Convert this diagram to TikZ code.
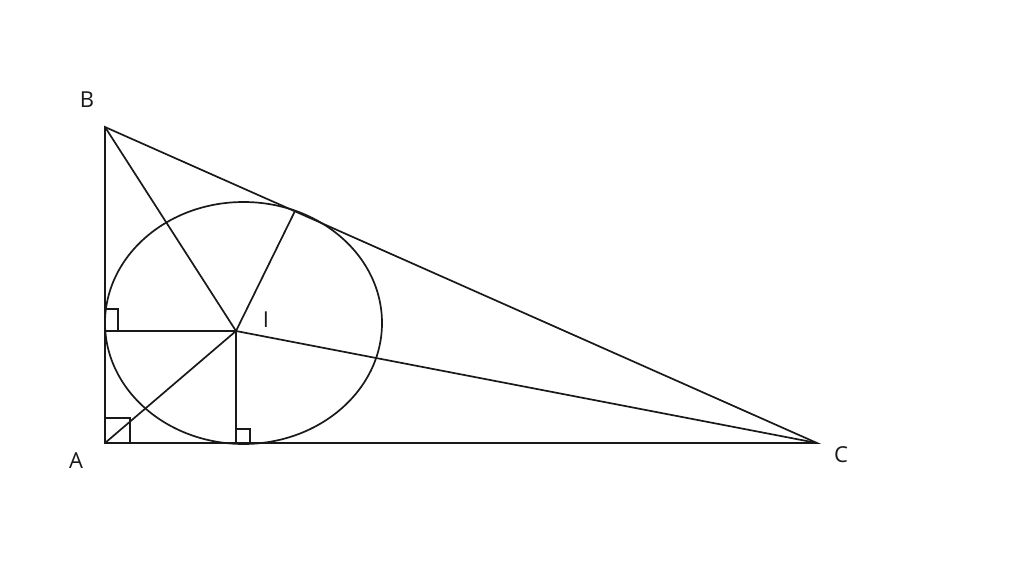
\documentclass[tikz,border=0pt]{standalone}
\usepackage{fontspec}
\setmainfont{Open Sans}
\begin{document}
\begin{tikzpicture}[x=1pt,y=-1pt,
  edge/.style={draw=black!90,line width=1.7pt},
  lbl/.style={font=\fontsize{22}{26}\selectfont,text=black!90,inner sep=0pt}]
\useasboundingbox (0,0) rectangle (1024,576);
\coordinate (A) at (105,443);
\coordinate (B) at (105,127);
\coordinate (C) at (817,443);
\coordinate (I) at (236,331);
\coordinate (D) at (105,331);
\coordinate (E) at (236,443);
\coordinate (F) at (295,211);
\draw[edge] (243.5,323) ellipse [x radius=138.5, y radius=121];
\draw[edge,line join=miter] (A) -- (B) -- (C) -- cycle;
\draw[edge,line width=2pt] (A) -- (C);
\draw[edge] (I) -- (A);
\draw[edge] (I) -- (B);
\draw[edge] (I) -- (C);
\draw[edge] (I) -- (D);
\draw[edge] (I) -- (E);
\draw[edge] (I) -- (F);
\draw[edge] (105,418) -- (130,418) -- (130,443);
\draw[edge] (105,309) -- (118,309) -- (118,331);
\draw[edge] (236,429) -- (250,429) -- (250,443);
\node[lbl] (lB) at (87,100) {B};
\node[lbl] (lA) at (76,461) {A};
\node[lbl] (lC) at (841,455) {C};
\node[lbl] (lI) at (266,320) {I};
\end{tikzpicture}
\end{document}
